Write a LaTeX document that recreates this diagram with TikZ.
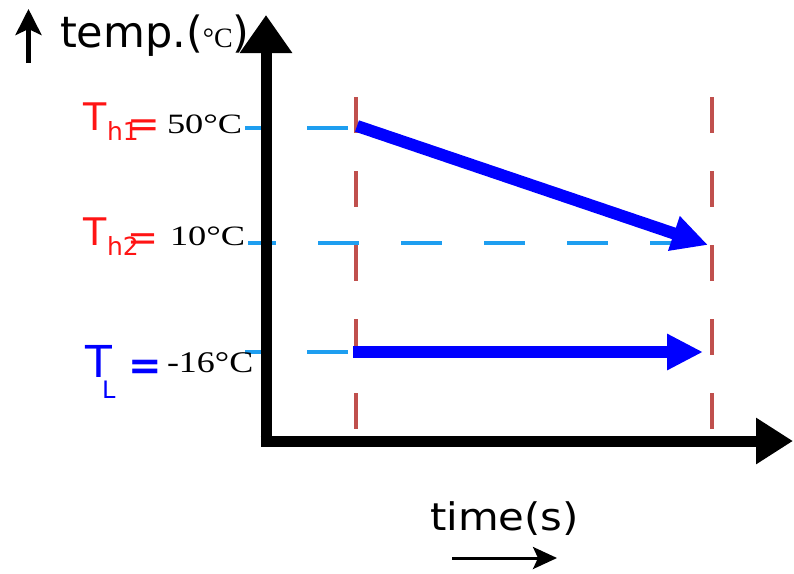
\documentclass[tikz,border=0pt]{standalone}
\usepackage{fontspec}
\usetikzlibrary{arrows.meta}
\newfontfamily\sansf{DejaVu Sans}
\newfontfamily\serf{Liberation Serif}
\definecolor{dashred}{RGB}{192,80,77}
\definecolor{lblue}{RGB}{30,158,240}
\definecolor{arrblue}{RGB}{0,0,255}
\definecolor{tred}{RGB}{255,20,20}
\begin{document}
\begin{tikzpicture}[x=1pt,y=-1pt,
  lbl/.style={inner sep=0pt, outer sep=0pt, anchor=base west},
  axisline/.style={draw=black, line width=11pt},
  reddash/.style={draw=dashred, line width=4pt, dash pattern=on 36pt off 38pt},
  bluedash/.style={draw=lblue, line width=4pt, dash pattern=on 41pt off 42pt},
  bluearrow/.style={draw=arrblue, line width=12pt, -{Triangle[length=36pt,width=34pt]}},
  thinarrow/.style={draw=black, line width=3pt, -{Stealth[length=24pt,width=22pt,inset=5pt]}},
  redtxt/.style={lbl, text=tred},
  bluetxt/.style={lbl, text=arrblue}]
\useasboundingbox (0,0) rectangle (794,573);
% helper coordinates
\coordinate (l1s) at (245,128); \coordinate (l1e) at (352,128);
\coordinate (l2s) at (248,243); \coordinate (l2e) at (700,243);
\coordinate (l3s) at (245,352); \coordinate (l3e) at (352,352);
\coordinate (r1t) at (356,97); \coordinate (r1b) at (356,432);
\coordinate (r2t) at (712,97); \coordinate (r2b) at (712,432);
\coordinate (ybot) at (266,446.5); \coordinate (ytop) at (266,15);
\coordinate (xl) at (260.5,441); \coordinate (xr) at (793,441);
\coordinate (a1s) at (357,126); \coordinate (a1e) at (708,245);
\coordinate (a2s) at (353,352); \coordinate (a2e) at (703,352);
\coordinate (ta1) at (28.5,63); \coordinate (ta2) at (28.5,9);
\coordinate (ba1) at (452,558); \coordinate (ba2) at (557,558);
% light blue level lines
\draw[bluedash, dash phase=21pt] (l1s) -- (l1e);
\draw[bluedash, dash phase=13pt] (l2s) -- (l2e);
\draw[bluedash, dash phase=21pt] (l3s) -- (l3e);
% red dashed time markers
\draw[reddash] (r1t) -- (r1b);
\draw[reddash] (r2t) -- (r2b);
% axes
\draw[axisline, -{Triangle[length=38pt,width=50pt]}] (ybot) -- (ytop);
\draw[axisline, -{Triangle[length=37pt,width=44pt]}] (xl) -- (xr);
% blue arrows
\draw[bluearrow] (a1s) -- (a1e);
\draw[bluearrow] (a2s) -- (a2e);
% small arrows
\draw[thinarrow, -{Stealth[length=26pt,width=26pt,inset=6pt]}, line width=4.5pt] (ta1) -- (ta2);
\draw[thinarrow] (ba1) -- (ba2);
% axis labels
\node[lbl] (tlab) at (60,47) {\sansf\fontsize{43}{46}\selectfont temp.(\serf\fontsize{28}{28}\selectfont °C\sansf\fontsize{43}{46}\selectfont )};
\node[lbl] (xlab) at (430,530) {\scalebox{1.1}[1]{\sansf\fontsize{38}{40}\selectfont time(s)}};
% Th1
\node[redtxt] (th1T) at (83,130) {\sansf\fontsize{38}{40}\selectfont T};
\node[redtxt] (th1s) at (107,140) {\sansf\fontsize{25}{26}\selectfont h1};
\node[redtxt] (th1e) at (127,137) {\sansf\fontsize{39}{40}\selectfont =};
\node[lbl] (th1v) at (167,133) {\scalebox{1.3}[1]{\serf\fontsize{28}{30}\selectfont 50°C}};
% Th2
\node[redtxt] (th2T) at (83,245) {\sansf\fontsize{38}{40}\selectfont T};
\node[redtxt] (th2s) at (107,255) {\sansf\fontsize{25}{26}\selectfont h2};
\node[redtxt] (th2e) at (127,250.5) {\sansf\fontsize{37}{40}\selectfont =};
\node[lbl] (th2v) at (170,245) {\scalebox{1.3}[1]{\serf\fontsize{28}{30}\selectfont 10°C}};
% TL
\node[bluetxt] (tlT) at (85,377) {\sansf\fontsize{44}{46}\selectfont T};
\node[bluetxt] (tls) at (102,398) {\sansf\fontsize{24}{26}\selectfont L};
\node[bluetxt] (tle) at (128,379) {\sansf\bfseries\fontsize{40}{42}\selectfont =};
\node[lbl] (tlv) at (167,372) {\scalebox{1.2}[1]{\serf\fontsize{30}{32}\selectfont -16°C}};
\end{tikzpicture}
\end{document}
